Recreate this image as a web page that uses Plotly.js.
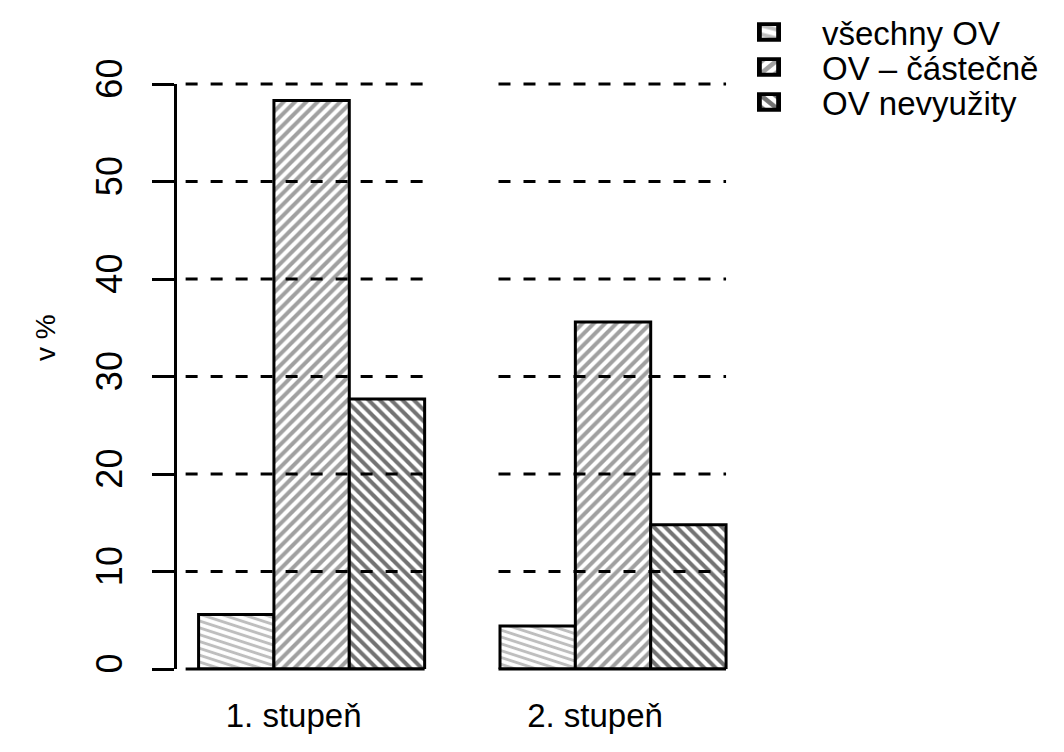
<!DOCTYPE html>
<html><head><meta charset="utf-8">
<script src="https://cdn.plot.ly/plotly-3.0.1.min.js"></script>
<style>html,body{margin:0;padding:0;background:#fff}#chart{width:1064px;height:752px}</style>
</head><body><div id="chart"></div><script>
// ---- data ----
const categories = ["1. stupeň", "2. stupeň"];
const seriesNames = ["všechny OV", "OV – částečně", "OV nevyužity"];
const allOV = [5.6, 4.4];
const partOV = [58.3, 35.6];
const unusedOV = [27.7, 14.8];
const yTickVals = [0, 10, 20, 30, 40, 50, 60];
const yTickText = ["0", "10", "20", "30", "40", "50", "60"];
const yTitle = "v %";

// ---- style ----
const FONT = "Liberation Sans, Arial, Helvetica, sans-serif";
const seriesValues = [allOV, partOV, unusedOV];
const patterns = [
  {shape: "-", fgcolor: "rgb(190,190,190)", bgcolor: "#ffffff", size: 6.5, solidity: 0.45},
  {shape: "/", fgcolor: "rgb(160,160,160)", bgcolor: "#ffffff", size: 8, solidity: 0.5},
  {shape: "\\", fgcolor: "rgb(115,115,115)", bgcolor: "#ffffff", size: 8, solidity: 0.5}
];
const legendIds = ["legend", "legend2", "legend3"];
const legendRowY = [32, 67, 102];   // pixel centres of legend rows

const M = {l: 177, r: 316, t: 84, b: 83, autoexpand: false};
const H = 752, W = 1064;
const plotH = H - M.t - M.b;
const plotW = W - M.l - M.r;
const yRange = [0, 60];

const traces = seriesNames.map((name, i) => ({
  type: "bar",
  name: name,
  x: categories,
  y: seriesValues[i],
  legend: legendIds[i],
  marker: {
    color: "#ffffff",
    line: {color: "#000000", width: 3},
    pattern: patterns[i]
  },
  hoverinfo: "skip"
}));

// group extents (category units): bars span +-0.375 around each category
const half = 0.375;
const leftPad = [0.043, 0.005];
const shapes = [];
const yp = v => (v - yRange[0]) / (yRange[1] - yRange[0]);
categories.forEach((c, gi) => {
  yTickVals.forEach(v => {
    shapes.push({
      type: "line", layer: "above", xref: "x", yref: "paper",
      x0: gi - half - leftPad[gi], x1: gi + half, y0: yp(v), y1: yp(v),
      line: {color: "#000000", width: 3, dash: v === 0 ? "solid" : "12px,13px"}
    });
  });
});

const layout = {
  width: W, height: H,
  paper_bgcolor: "#ffffff", plot_bgcolor: "#ffffff",
  margin: M,
  font: {family: FONT, size: 33, color: "#000000"},
  barmode: "group", bargap: 0.25, bargroupgap: 0,
  showlegend: true,
  xaxis: {
    type: "category", range: [-0.4466, 1.4478],
    showgrid: false, zeroline: false, showline: false, ticks: "",
    tickfont: {family: FONT, size: 33, color: "#000"},
    ticklabelstandoff: 24, ticklabelshift: -18
  },
  yaxis: {
    range: yRange, tickvals: yTickVals, ticktext: yTickText,
    showgrid: false, zeroline: false,
    showline: true, linecolor: "#000", linewidth: 3,
    ticks: "outside", ticklen: 22, tickwidth: 3, tickcolor: "#000",
    tickangle: -90, ticklabelstandoff: 16,
    tickfont: {family: FONT, size: 36, color: "#000"}
  },
  annotations: [{
    text: yTitle, xref: "paper", yref: "paper",
    x: (45 - M.l) / plotW, y: (H - M.b - 338) / plotH,
    showarrow: false, textangle: -90, xanchor: "center", yanchor: "middle",
    font: {family: FONT, size: 28, color: "#000"}
  }],
  shapes: shapes
};
legendIds.forEach((id, i) => {
  layout[id] = {
    x: (716 - M.l) / plotW, xanchor: "left",
    y: (H - M.b - legendRowY[i]) / plotH, yanchor: "middle",
    font: {family: FONT, size: 33, color: "#000"},
    bgcolor: "rgba(0,0,0,0)", itemwidth: 96, borderwidth: 0
  };
});

function tweak() {
  // tilt the horizontal-line hatch of the first series to a shallow angle
  document.querySelectorAll("pattern").forEach(p => {
    const path = p.querySelector("path");
    if (!path) return;
    const d = (path.getAttribute("d") || "").replace(/\s+/g, "");
    const m = d.match(/^M0,([\d.]+)(?:L([\d.]+),([\d.]+)|H([\d.]+))$/);
    if (m && (m[4] !== undefined || m[1] === m[3])) {
      p.setAttribute("patternTransform", "rotate(18)");
    }
  });
  // enlarge the legend swatches
  document.querySelectorAll(".legendpoints path").forEach(pt => {
    if (pt.getAttribute("data-scaled")) return;
    const t = pt.getAttribute("transform") || "";
    pt.setAttribute("transform", t + " scale(1.6,1.3)");
    pt.setAttribute("data-scaled", "1");
  });
}
Plotly.newPlot("chart", traces, layout, {staticPlot: true, displayModeBar: false}).then(() => {
  tweak();
  setTimeout(tweak, 50);
});
</script></body></html>
